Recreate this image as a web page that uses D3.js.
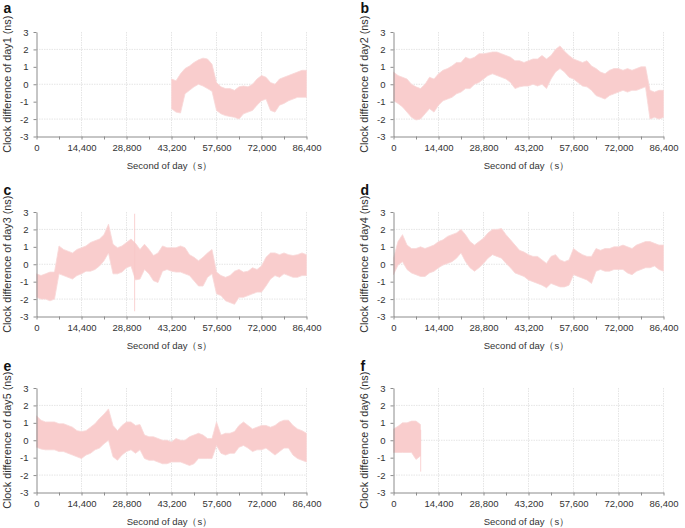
<!DOCTYPE html>
<html>
<head>
<meta charset="utf-8">
<script src="https://cdn.jsdelivr.net/npm/d3@7.9.0/dist/d3.min.js"></script>
<style>
  body { margin: 0; background: #fff; }
  svg { display: block; font-family: "Liberation Sans", Arial, sans-serif; }
  .tick text { font-size: 9.5px; fill: #333; font-family: "Liberation Sans", Arial, sans-serif; }
  .axis path, .axis line { stroke: #8c8c8c; }
</style>
</head>
<body>
<svg id="chart" width="685" height="528"></svg>
<script>
// sample grid (second of day), one reading every 1440 s
const seconds = [0,1440,2880,4320,5760,7200,8640,10080,11520,12960,14400,15840,17280,18720,20160,21600,
  23040,24480,25920,27360,28800,30240,31680,33120,34560,36000,37440,38880,40320,41760,43200,44640,46080,
  47520,48960,50400,51840,53280,54720,56160,57600,59040,60480,61920,63360,64800,66240,67680,69120,70560,
  72000,73440,74880,76320,77760,79200,80640,82080,83520,84960,86400];

// upper / lower edge of the clock difference band (ns)
const day1Hi = [0.3,0.2,0.6,0.9,1.05,1.25,1.4,1.5,1.45,1.15,0.1,-0.15,-0.25,-0.25,-0.35,-0.15,-0.1,-0.15,0.0,0.3,
  0.5,0.4,0.1,0.0,0.3,0.4,0.5,0.6,0.7,0.8,0.8];
const day1Lo = [-1.4,-1.6,-1.65,-0.55,-0.35,-0.15,0.0,-0.1,-0.25,-0.4,-1.5,-1.7,-1.8,-1.85,-1.9,-2.0,-1.7,-1.6,-1.5,-1.2,
  -0.95,-0.85,-1.5,-1.6,-1.2,-1.1,-0.95,-0.85,-0.75,-0.75,-0.75];

const day2Hi = [0.7,0.5,0.4,0.3,0.0,-0.15,-0.25,0.0,0.4,0.3,0.6,0.8,0.9,1.05,1.25,1.25,1.55,1.45,1.55,1.75,
  1.75,1.8,1.85,1.85,1.75,1.65,1.55,1.35,1.35,1.25,1.35,1.45,1.45,1.65,1.45,1.65,2.0,2.2,1.9,1.65,
  1.45,1.35,1.25,1.35,1.05,0.9,0.7,0.6,0.8,0.9,0.9,0.8,0.9,0.8,0.9,1.0,1.0,-0.35,-0.45,-0.35,-0.35];
const day2Lo = [-0.95,-1.1,-1.3,-1.6,-1.9,-2.05,-2.0,-1.7,-1.4,-1.6,-1.2,-0.95,-0.85,-0.75,-0.55,-0.45,-0.25,-0.25,0.0,0.1,
  0.3,0.5,0.6,0.5,0.4,0.3,0.1,-0.25,-0.15,-0.1,-0.1,0.0,-0.1,0.0,-0.25,0.3,0.7,0.9,0.7,0.4,
  0.3,0.1,-0.1,-0.15,-0.35,-0.65,-0.75,-0.85,-0.65,-0.55,-0.45,-0.35,-0.45,-0.35,-0.35,-0.25,-0.15,-2.0,-1.9,-2.0,-1.9];

const day3Hi = [-0.55,-0.65,-0.55,-0.45,-0.45,1.05,0.85,0.75,0.65,0.85,0.95,1.05,1.25,1.35,1.45,1.7,2.3,1.15,0.95,1.05,
  1.25,1.45,1.2,0.85,1.15,0.85,0.5,0.65,1.05,0.95,0.95,0.95,1.05,0.95,0.55,0.4,0.2,0.4,0.65,0.85,
  -0.45,-0.65,-0.75,-0.65,-0.4,-0.3,-0.45,-0.4,-0.2,-0.3,-0.1,0.4,0.65,0.65,0.55,0.65,0.55,0.5,0.55,0.65,0.55];
const day3Lo = [-1.9,-2.0,-2.0,-2.1,-2.0,-0.55,-0.65,-0.75,-0.85,-0.65,-0.55,-0.4,-0.4,-0.3,-0.1,0.2,0.65,-0.55,-0.55,-0.45,
  -0.2,-0.1,-0.9,-0.85,-0.3,-0.55,-0.95,-1.05,-0.4,-0.3,-0.4,-0.45,-0.45,-0.55,-0.65,-0.95,-1.25,-1.25,-0.75,-0.55,
  -1.7,-1.8,-2.1,-2.2,-2.3,-1.9,-1.9,-1.8,-1.7,-1.6,-1.6,-1.25,-0.85,-0.65,-0.75,-0.55,-0.65,-0.75,-0.75,-0.65,-0.65];

const day4Hi = [0.35,1.3,1.7,1.1,0.9,0.9,1.0,0.9,1.0,1.1,1.3,1.4,1.6,1.7,1.8,2.0,1.7,1.3,1.1,1.3,
  1.5,1.8,2.0,2.0,2.05,1.7,1.4,1.1,0.8,0.7,0.55,0.45,0.45,0.25,0.05,0.45,0.55,0.25,0.15,0.25,
  0.9,0.7,0.55,0.45,0.45,0.9,0.8,0.9,0.9,1.0,1.0,1.1,1.0,0.9,1.1,1.2,1.3,1.3,1.2,1.1,1.1];
const day4Lo = [-0.6,-0.05,0.15,-0.3,-0.5,-0.6,-0.7,-0.7,-0.5,-0.4,-0.2,-0.05,0.05,0.15,0.35,0.65,0.15,-0.2,-0.4,-0.2,
  0.05,0.35,0.55,0.45,0.35,0.05,-0.2,-0.5,-0.6,-0.7,-0.9,-1.0,-1.1,-1.2,-1.35,-1.1,-1.2,-1.3,-1.3,-1.2,
  -0.6,-0.7,-0.8,-0.9,-1.1,-0.4,-0.3,-0.4,-0.4,-0.3,-0.3,-0.3,-0.5,-0.6,-0.4,-0.3,-0.2,-0.2,-0.1,-0.3,-0.4];

const day5Hi = [1.4,1.15,1.05,1.05,1.05,0.95,0.95,0.85,0.75,0.55,0.5,0.55,0.75,0.95,1.25,1.5,1.8,0.85,0.55,0.85,
  1.05,1.05,0.85,0.9,0.3,0.2,0.2,0.1,0.0,0.0,-0.1,0.1,0.0,0.0,0.2,0.3,0.4,0.3,0.1,0.1,
  1.05,0.3,0.4,0.4,0.5,0.85,1.05,0.85,0.65,0.75,0.85,0.85,0.75,0.85,1.05,1.15,1.15,0.85,0.65,0.55,0.4];
const day5Lo = [-0.4,-0.5,-0.55,-0.55,-0.55,-0.65,-0.65,-0.75,-0.85,-0.95,-1.05,-0.85,-0.75,-0.55,-0.45,-0.2,0.0,-0.95,-1.15,-0.85,
  -0.65,-0.55,-0.75,-0.55,-1.05,-1.15,-1.15,-1.25,-1.35,-1.35,-1.25,-1.25,-1.25,-1.35,-1.45,-1.35,-1.05,-1.05,-1.05,-1.05,
  -0.3,-0.75,-0.85,-0.75,-0.75,-0.4,-0.3,-0.45,-0.65,-0.55,-0.55,-0.45,-0.65,-0.85,-0.65,-0.45,-0.45,-0.85,-1.05,-1.15,-1.25];

const day6Hi = [0.65,0.8,1.0,1.0,1.1,1.1,0.9];
const day6Lo = [-0.7,-0.7,-0.7,-0.7,-0.7,-1.1,-0.9];

// index into seconds where each day's record begins
const dayStart = [30, 0, 0, 0, 0, 0];

// single-epoch outliers: [second, hi, lo]
const day3Spikes = [[31400, 2.9, -2.7]];
const day6Spikes = [[8700, 0.6, -1.8]];

const xTicks = [0, 14400, 28800, 43200, 57600, 72000, 86400];
const xMinor = [0,7200,14400,21600,28800,36000,43200,50400,57600,64800,72000,79200,86400];
const yTicks = [-3, -2, -1, 0, 1, 2, 3];
const gridY = [-2, 0, 2];
const letters = ["a", "b", "c", "d", "e", "f"];

const series = [
  [day1Hi, day1Lo, []], [day2Hi, day2Lo, []], [day3Hi, day3Lo, day3Spikes],
  [day4Hi, day4Lo, []], [day5Hi, day5Lo, []], [day6Hi, day6Lo, day6Spikes]
];

// layout
const colLeft = [36.5, 393.5];
const rowTop = [32, 212, 388];
const letterY = [13, 195, 371];
const plotW = 270, plotH = 104.5;

const svg = d3.select("#chart");
const fmt = d3.format(",");

series.forEach(([hi, lo, spikes], k) => {
  const left = colLeft[k % 2], top = rowTop[Math.floor(k / 2)];
  const x = d3.scaleLinear().domain([0, 86400]).range([left, left + plotW]);
  const y = d3.scaleLinear().domain([-3, 3]).range([top + plotH, top]);
  const g = svg.append("g");

  // grid
  g.selectAll(".gx").data(xTicks.slice(1)).join("line")
    .attr("x1", d => x(d)).attr("x2", d => x(d))
    .attr("y1", y(3)).attr("y2", y(-3))
    .attr("stroke", "#dedede").attr("stroke-width", 0.8).attr("stroke-dasharray", "1.5,1");
  g.selectAll(".gy").data(gridY).join("line")
    .attr("x1", x(0)).attr("x2", x(86400))
    .attr("y1", d => y(d)).attr("y2", d => y(d))
    .attr("stroke", "#dedede").attr("stroke-width", 0.8).attr("stroke-dasharray", "1.5,1");

  // band
  const pts = hi.map((h, j) => ({ t: seconds[dayStart[k] + j], h, l: lo[j] }));
  const area = d3.area().x(d => x(d.t)).y0(d => y(d.l)).y1(d => y(d.h));
  g.append("path").datum(pts).attr("d", area)
    .attr("fill", "#f9cdcd")
    .attr("stroke", "#f9d8d8").attr("stroke-width", 0.8).attr("stroke-linejoin", "round");
  g.selectAll(".spike").data(spikes).join("line")
    .attr("x1", d => x(d[0])).attr("x2", d => x(d[0]))
    .attr("y1", d => y(d[1])).attr("y2", d => y(d[2]))
    .attr("stroke", "#f7c6c6").attr("stroke-width", 0.8);

  // axes
  const ax = g.append("g").attr("class", "axis")
    .attr("transform", `translate(0,${y(-3)})`)
    .call(d3.axisBottom(x).tickValues(xMinor).tickSize(3).tickSizeOuter(0).tickPadding(5)
      .tickFormat(d => d % 14400 === 0 ? fmt(d) : ""));
  ax.attr("font-size", null).attr("font-family", null);
  const ay = g.append("g").attr("class", "axis")
    .attr("transform", `translate(${x(0)},0)`)
    .call(d3.axisLeft(y).tickValues(yTicks).tickSize(3).tickSizeOuter(0).tickPadding(5)
      .tickFormat(d => String(d)));
  ay.attr("font-size", null).attr("font-family", null);

  // titles
  g.append("text")
    .attr("x", left + plotW / 2 - 2).attr("y", top + plotH + 32)
    .attr("text-anchor", "middle").attr("font-size", 9.5).attr("fill", "#333")
    .text("Second of day（s）");
  g.append("text")
    .attr("transform", `translate(${left - 26},${top + plotH / 2}) rotate(-90)`)
    .attr("text-anchor", "middle").attr("font-size", 10.8).attr("fill", "#333")
    .text(`Clock difference of day${k + 1} (ns)`);
  g.append("text")
    .attr("x", left - 33).attr("y", letterY[Math.floor(k / 2)])
    .attr("font-size", 14).attr("font-weight", "bold").attr("fill", "#111")
    .text(letters[k]);
});
</script>
</body>
</html>
